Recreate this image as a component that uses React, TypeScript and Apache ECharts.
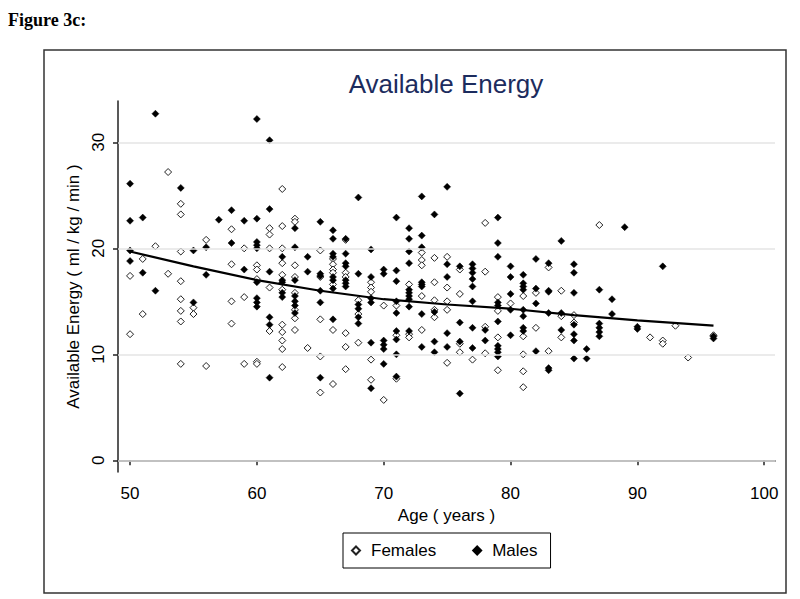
import React, { useEffect, useRef } from 'react';
import * as echarts from 'echarts';

const xTicks = [50, 60, 70, 80, 90, 100];
const yTicks = [0, 10, 20, 30];

const females: [number, number][] = [
  [50, 17.4], [50, 11.9], [51, 19.0], [51, 13.8], [52, 20.2], [53, 27.2], [53, 17.6],
  [54, 24.2], [54, 23.2], [54, 19.7], [54, 16.9], [54, 15.2], [54, 14.1], [54, 13.1], [54, 9.1],
  [55, 14.4], [55, 13.8], [56, 20.8], [56, 8.9],
  [58, 21.8], [58, 18.5], [58, 15.0], [58, 12.9], [59, 20.0], [59, 15.4], [59, 9.1],
  [60, 18.4], [60, 18.0], [60, 17.1], [60, 9.3], [60, 9.1],
  [61, 21.9], [61, 21.3], [61, 20.0], [61, 16.3], [61, 12.2],
  [62, 25.6], [62, 22.1], [62, 20.0], [62, 18.6], [62, 17.5], [62, 16.1], [62, 12.8], [62, 12.1], [62, 11.3], [62, 10.5], [62, 8.8],
  [63, 22.8], [63, 22.5], [63, 18.4], [63, 17.3], [63, 15.8], [63, 14.2], [63, 13.4], [63, 12.3],
  [64, 10.6],
  [65, 19.8], [65, 17.3], [65, 13.3], [65, 9.8], [65, 6.4],
  [66, 19.0], [66, 18.5], [66, 18.0], [66, 17.7], [66, 16.6], [66, 12.3], [66, 7.2],
  [67, 20.8], [67, 17.7], [67, 17.3], [67, 12.0], [67, 10.7], [67, 8.6],
  [68, 15.1], [68, 13.8], [68, 11.1],
  [69, 16.8], [69, 16.3], [69, 15.9], [69, 9.5], [69, 7.6],
  [70, 14.6], [70, 5.7], [71, 14.6], [71, 11.8], [71, 7.7],
  [72, 16.6], [72, 11.9], [72, 11.6],
  [73, 19.6], [73, 18.9], [73, 18.4], [73, 15.5], [73, 12.3],
  [74, 19.1], [74, 16.8], [74, 15.1], [74, 14.2], [74, 13.5],
  [75, 19.2], [75, 16.3], [75, 15.0], [75, 14.2], [75, 9.2],
  [76, 18.0], [76, 15.7], [76, 11.0], [76, 10.2], [77, 9.5],
  [78, 22.4], [78, 17.8], [78, 12.6], [78, 10.1],
  [79, 15.4], [79, 14.1], [79, 11.6], [79, 8.5], [80, 14.8],
  [81, 15.5], [81, 11.7], [81, 10.0], [81, 8.4], [81, 6.9],
  [82, 15.8], [82, 12.5], [83, 18.2], [83, 10.3], [84, 16.0], [84, 13.6], [84, 11.6],
  [85, 13.7], [85, 13.0], [87, 22.2], [91, 11.6], [92, 11.3], [92, 11.0], [93, 12.7], [94, 9.7], [96, 11.8],
];

const males: [number, number][] = [
  [50, 26.1], [50, 22.6], [50, 19.8], [50, 18.8], [51, 22.9], [51, 17.7], [52, 32.7], [52, 16.0],
  [54, 25.7], [55, 19.8], [55, 14.9], [56, 20.1], [56, 17.5], [57, 22.7], [58, 23.6], [58, 20.5],
  [59, 22.6], [59, 18.0],
  [60, 32.2], [60, 22.8], [60, 20.6], [60, 20.3], [60, 20.0], [60, 16.8], [60, 15.3], [60, 14.9], [60, 14.5],
  [61, 30.2], [61, 23.7], [61, 17.8], [61, 13.5], [61, 12.8], [61, 7.8],
  [62, 19.2], [62, 17.0], [62, 16.8], [62, 15.8], [62, 15.4],
  [63, 21.9], [63, 20.1], [63, 17.0], [63, 15.5], [63, 15.0], [63, 14.6], [63, 13.9],
  [64, 19.2], [64, 17.8],
  [65, 22.5], [65, 17.6], [65, 17.4], [65, 16.0], [65, 14.9], [65, 7.8],
  [66, 21.7], [66, 20.9], [66, 19.5], [66, 19.2], [66, 17.3], [66, 17.0], [66, 16.2], [66, 13.3],
  [67, 20.9], [67, 19.5], [67, 18.6], [67, 18.3], [67, 17.0], [67, 16.7], [67, 16.4],
  [68, 24.8], [68, 17.6], [68, 14.7], [68, 14.3], [68, 13.5], [68, 12.9],
  [69, 19.9], [69, 17.3], [69, 15.3], [69, 14.9], [69, 11.1], [69, 6.8],
  [70, 18.0], [70, 17.6], [70, 11.3], [70, 10.9], [70, 10.5], [70, 9.1],
  [71, 22.9], [71, 17.9], [71, 16.9], [71, 15.0], [71, 13.9], [71, 12.2], [71, 11.4], [71, 10.0], [71, 7.9],
  [72, 21.9], [72, 20.9], [72, 19.7], [72, 18.6], [72, 16.1], [72, 15.8], [72, 15.5], [72, 15.2], [72, 14.5], [72, 12.2],
  [73, 24.9], [73, 21.2], [73, 20.1], [73, 16.8], [73, 16.6], [73, 16.4], [73, 13.8], [73, 10.7],
  [74, 23.2], [74, 14.0], [74, 11.2], [74, 10.2],
  [75, 25.8], [75, 18.5], [75, 17.3], [75, 12.0], [75, 10.7],
  [76, 18.3], [76, 13.0], [76, 11.2], [76, 6.3],
  [77, 18.5], [77, 18.1], [77, 17.7], [77, 17.1], [77, 16.4], [77, 15.0], [77, 12.5], [77, 10.6],
  [78, 12.3], [78, 11.3],
  [79, 22.9], [79, 20.5], [79, 19.2], [79, 14.9], [79, 14.6], [79, 13.1], [79, 10.8], [79, 10.5], [79, 10.2], [79, 9.8],
  [80, 18.3], [80, 17.3], [80, 15.7], [80, 14.2], [80, 11.8],
  [81, 17.5], [81, 16.7], [81, 16.4], [81, 16.1], [81, 14.2], [81, 13.6], [81, 12.5], [81, 12.2],
  [82, 19.0], [82, 16.2], [82, 14.8], [82, 10.3],
  [83, 18.6], [83, 16.0], [83, 15.9], [83, 13.9], [83, 8.7], [83, 8.5],
  [84, 20.7], [84, 13.9], [84, 12.3],
  [85, 18.5], [85, 17.7], [85, 15.8], [85, 12.8], [85, 11.9], [85, 11.3], [85, 9.6],
  [86, 10.5], [86, 9.6], [87, 16.1], [87, 12.9], [87, 12.5], [87, 12.1], [87, 11.7],
  [88, 15.2], [88, 13.8], [89, 22.0], [90, 12.6], [90, 12.4], [92, 18.3], [96, 11.7], [96, 11.5],
];

const fitLine: [number, number][] = [
  [50, 19.7], [55, 18.3], [60, 17.0], [65, 16.0], [70, 15.2], [75, 14.7], [80, 14.3], [85, 13.7], [90, 13.2], [96, 12.7],
];

const SANS = '"Liberation Sans", Arial, sans-serif';

export default function App() {
  const ref = useRef<HTMLDivElement>(null);
  useEffect(() => {
    const chart = echarts.init(ref.current!, null, { renderer: 'svg' });
    chart.setOption({
      animation: false,
      backgroundColor: '#fff',
      title: [
        {
          text: 'Figure 3c:', left: 8, top: 11, padding: 0,
          textStyle: { fontFamily: '"Liberation Serif", "Times New Roman", serif', fontWeight: 'bold', fontSize: 18, color: '#000' },
        },
        {
          text: 'Available Energy', left: 446, top: 71, padding: 0, textAlign: 'center',
          textStyle: { fontFamily: SANS, fontWeight: 'normal', fontSize: 26, color: '#1c2c5e' },
        },
      ],
      graphic: [
        { type: 'rect', shape: { x: 44, y: 50, width: 742, height: 543 }, style: { fill: 'none', stroke: '#333', lineWidth: 1.5 }, silent: true },
      ],
      legend: {
        data: [{ name: 'Females', icon: 'diamond' }, { name: 'Males', icon: 'diamond' }],
        left: 343, top: 533, orient: 'horizontal',
        itemWidth: 8, itemHeight: 8, itemGap: 36,
        padding: [9, 13, 9, 8], borderColor: '#000', borderWidth: 1, backgroundColor: '#fff',
        selectedMode: false,
        textStyle: { fontFamily: SANS, fontSize: 17, color: '#000', padding: [0, 0, 0, 6] },
      },
      grid: { left: 118, right: 25, top: 101, bottom: 127, containLabel: false },
      xAxis: {
        type: 'value', min: 49.05, max: 100.85,
        name: 'Age ( years )', nameLocation: 'middle', nameGap: 32,
        nameTextStyle: { fontFamily: SANS, fontSize: 17, color: '#000' },
        axisLine: { show: true, lineStyle: { color: '#222', width: 1.5 } },
        axisTick: { show: true, length: 5, customValues: xTicks, lineStyle: { color: '#222', width: 1.5 } },
        axisLabel: { customValues: xTicks, margin: 13, fontFamily: SANS, fontSize: 17, color: '#000' },
        splitLine: { show: false },
      },
      yAxis: {
        type: 'value', min: -1.1, max: 33.9,
        name: 'Available Energy ( ml / kg / min )', nameLocation: 'middle', nameGap: 33,
        nameTextStyle: { fontFamily: SANS, fontSize: 17, color: '#000' },
        axisLine: { show: true, lineStyle: { color: '#222', width: 1.5 } },
        axisTick: { show: true, length: 5, customValues: yTicks, lineStyle: { color: '#222', width: 1.5 } },
        axisLabel: { customValues: yTicks, rotate: 90, margin: 11, fontFamily: SANS, fontSize: 17, color: '#000' },
        splitLine: { show: false },
      },
      series: [
        {
          name: 'grid', type: 'scatter', data: [], silent: true, z: 0,
          markLine: {
            silent: true, symbol: 'none', label: { show: false },
            lineStyle: { color: '#e4e4e4', width: 1.5, type: 'solid' },
            data: yTicks.map((v) => ({ yAxis: v })),
          },
        },
        {
          name: 'Females', type: 'scatter', data: females, symbol: 'diamond', symbolSize: 7, z: 2,
          itemStyle: { color: '#fff', borderColor: '#222', borderWidth: 1, opacity: 1 },
        },
        {
          name: 'Males', type: 'scatter', data: males, symbol: 'diamond', symbolSize: 7, z: 3,
          itemStyle: { color: '#000', borderColor: '#000', borderWidth: 0.5, opacity: 1 },
        },
        {
          name: 'fit', type: 'line', data: fitLine, symbol: 'none', z: 4, silent: true,
          lineStyle: { color: '#000', width: 2.2 },
        },
      ],
    });
    return () => chart.dispose();
  }, []);
  return <div ref={ref} style={{ position: 'absolute', left: 0, top: 0, width: 800, height: 599, background: '#fff' }} />;
}
